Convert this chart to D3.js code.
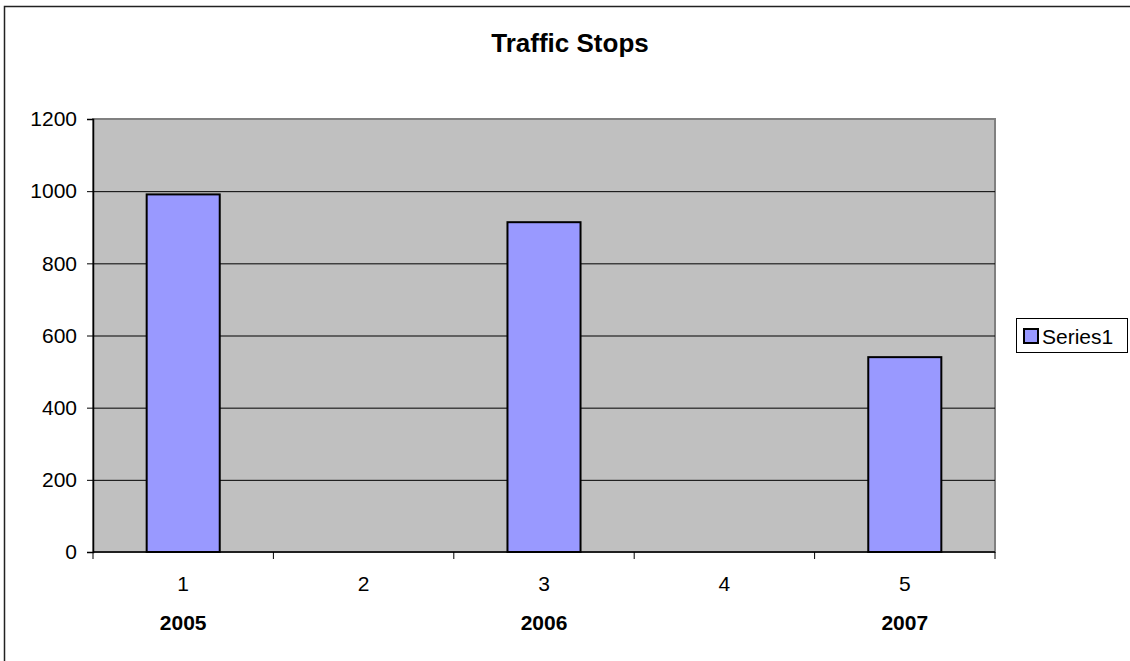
<!DOCTYPE html>
<html><head><meta charset="utf-8">
<script src="https://cdn.jsdelivr.net/npm/d3@7"></script>
<style>body{margin:0;background:#fff}svg{display:block;font-family:"Liberation Sans",Arial,sans-serif}</style>
</head><body>
<svg id="c" width="1130" height="661"></svg>
<script>
const categories = ["1","2","3","4","5"];
const years = ["2005","","2006","","2007"];
const values = [991, null, 914, null, 540];
const yTicks = [0,200,400,600,800,1000,1200];
const seriesName = "Series1";

const svg = d3.select("#c");
const m = {left:93, right:995, top:119, bottom:552};
const FS = 21;

// outer border
svg.append("rect").attr("x",4.5).attr("y",6.5).attr("width",1140).attr("height",670)
  .attr("fill","none").attr("stroke","#222").attr("stroke-width",1.5);

const x = d3.scaleBand().domain(categories).range([m.left,m.right]).paddingInner(0).paddingOuter(0);
const y = d3.scaleLinear().domain([0,1200]).range([m.bottom,m.top]);

// plot area
svg.append("rect").attr("x",m.left).attr("y",m.top).attr("width",m.right-m.left).attr("height",m.bottom-m.top)
  .attr("fill","#C0C0C0").attr("stroke","#808080").attr("stroke-width",2);

// gridlines
svg.append("g").selectAll("line").data(yTicks.filter(d=>d>0 && d<1200)).join("line")
  .attr("x1",m.left).attr("x2",m.right).attr("y1",d=>y(d)+0.5).attr("y2",d=>y(d)+0.5)
  .attr("stroke","#000").attr("stroke-width",1);

// bars
const bw = x.bandwidth()*0.405;
svg.append("g").selectAll("rect").data(categories.map((c,i)=>({c,v:values[i]})).filter(d=>d.v!=null)).join("rect")
  .attr("x",d=>x(d.c)+x.bandwidth()/2-bw/2).attr("width",bw)
  .attr("y",d=>y(d.v)).attr("height",d=>y(0)-y(d.v))
  .attr("fill","#9999FF").attr("stroke","#000").attr("stroke-width",2);

// y axis
const ya = svg.append("g").attr("transform",`translate(${m.left},0)`)
  .call(d3.axisLeft(y).tickValues(yTicks).tickSize(6).tickPadding(10).tickFormat(d3.format("d")));
ya.select(".domain").attr("stroke","#000").attr("stroke-width",1.5);
ya.selectAll(".tick line").attr("stroke","#000");
ya.selectAll("text").attr("font-size",FS).attr("font-family","Liberation Sans, Arial").attr("fill","#000");

// x axis
const xa = svg.append("g").attr("transform",`translate(0,${m.bottom})`);
xa.append("line").attr("x1",m.left).attr("x2",m.right).attr("y1",0).attr("y2",0).attr("stroke","#000").attr("stroke-width",1.5);
const bounds = categories.map(c=>x(c)).concat([m.right]);
xa.selectAll("line.t").data(bounds).join("line").attr("class","t")
  .attr("x1",d=>d).attr("x2",d=>d).attr("y1",0).attr("y2",7).attr("stroke","#000");
xa.selectAll("text.c").data(categories).join("text").attr("class","c")
  .attr("x",d=>x(d)+x.bandwidth()/2).attr("y",39).attr("text-anchor","middle")
  .attr("font-size",FS).text(d=>d);
xa.selectAll("text.y").data(categories.map((c,i)=>({c,yr:years[i]}))).join("text").attr("class","y")
  .attr("x",d=>x(d.c)+x.bandwidth()/2).attr("y",78).attr("text-anchor","middle")
  .attr("font-size",FS).attr("font-weight","bold").text(d=>d.yr);

// title
svg.append("text").attr("x",(m.left+m.right)/2+26).attr("y",52).attr("text-anchor","middle")
  .attr("font-size",26).attr("font-weight","bold").text("Traffic Stops");

// legend
const lg = svg.append("g");
lg.append("rect").attr("x",1016.5).attr("y",318.5).attr("width",111).attr("height",34)
  .attr("fill","#fff").attr("stroke","#000").attr("stroke-width",1);
lg.append("rect").attr("x",1024).attr("y",329).attr("width",14).attr("height",14)
  .attr("fill","#9999FF").attr("stroke","#000").attr("stroke-width",2);
lg.append("text").attr("x",1042).attr("y",344).attr("font-size",FS).text(seriesName);
</script>
</body></html>
